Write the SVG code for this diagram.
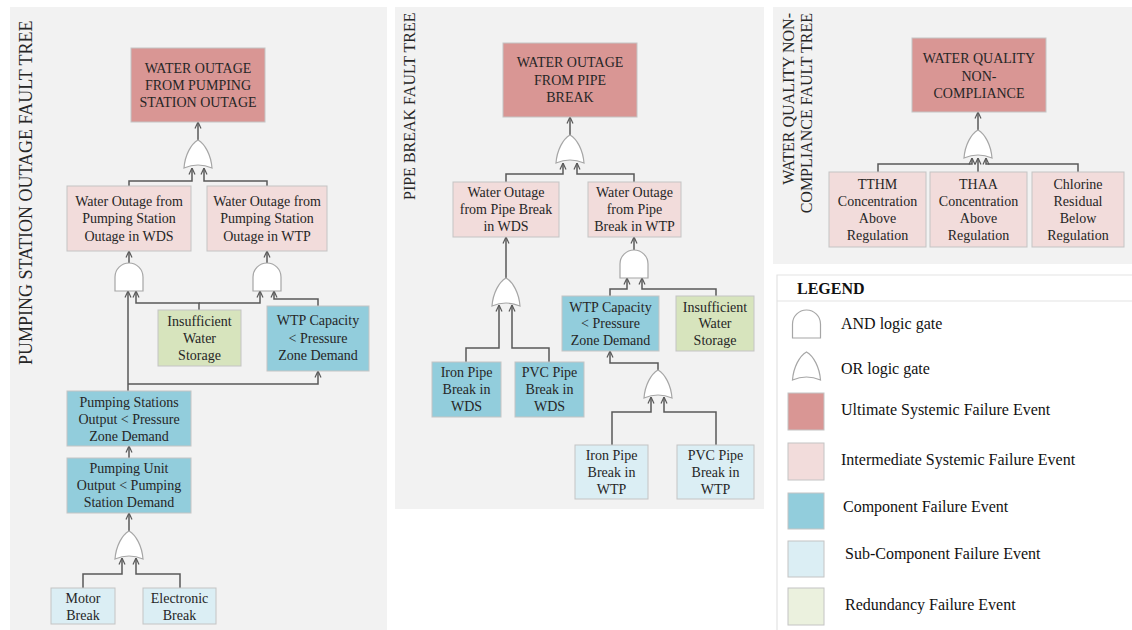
<svg xmlns="http://www.w3.org/2000/svg" width="1132" height="630" viewBox="0 0 1132 630">
<defs>
<style>
.panel{fill:#f2f2f2}
.box{stroke:#c4c4c4;stroke-width:1}
.ult{fill:#d99694}
.int{fill:#f2dcdb}
.comp{fill:#92cddc}
.sub{fill:#dbeef4}
.red{fill:#d7e4bd}
.redl{fill:#ebf1de}
.gate{fill:#ffffff;stroke:#a6a6a6;stroke-width:1.2}
.t{font-family:"Liberation Serif","Times New Roman",serif;font-size:14px;fill:#262626;text-anchor:middle}
.title{font-family:"Liberation Serif","Times New Roman",serif;fill:#262626}
.lg{font-family:"Liberation Serif","Times New Roman",serif;font-size:16px;fill:#111}
.conn{fill:none;stroke:#595959;stroke-width:1.5;marker-end:url(#arr)}
.lgline{stroke:#e3e3e3;stroke-width:1.2;fill:none}
</style>
<marker id="arr" viewBox="0 0 8 8" refX="7.5" refY="4" markerWidth="8" markerHeight="8" markerUnits="userSpaceOnUse" orient="auto">
<path d="M1,1 L7.5,4 L1,7" fill="none" stroke="#595959" stroke-width="1.2"/>
</marker>
<path id="and" class="gate" d="M-14,28 V14 A14,14 0 0 1 14,14 V28 Z"/>
<path id="or" class="gate" d="M-14,28 C-13,15 -7,4 0,0 C7,4 13,15 14,28 Q0,22 -14,28 Z"/>
</defs>

<!-- panels -->
<rect class="panel" x="10" y="7" width="377" height="623"/>
<rect class="panel" x="395" y="7" width="369" height="502"/>
<rect class="panel" x="773" y="7" width="359" height="257"/>

<!-- titles -->
<text class="title" font-size="18" transform="translate(32,365) rotate(-90)">PUMPING STATION OUTAGE FAULT TREE</text>
<text class="title" font-size="16" transform="translate(415,200) rotate(-90)">PIPE BREAK FAULT TREE</text>
<text class="title" font-size="16" text-anchor="end" transform="translate(794,13) rotate(-90)">WATER QUALITY NON-</text>
<text class="title" font-size="16" text-anchor="end" transform="translate(812,13) rotate(-90)">COMPLIANCE FAULT TREE</text>

<!-- connectors -->
<g id="connectors">
<path class="conn" d="M198,140 V122"/>
<path class="conn" d="M129,186 V181 H192 V168"/>
<path class="conn" d="M267,186 V181 H204 V168"/>
<path class="conn" d="M129,263 V251"/>
<path class="conn" d="M267,263 V251"/>
<path class="conn" d="M128,391 V291"/>
<path class="conn" d="M199,310 V303 H136 V291"/>
<path class="conn" d="M199,303 H260 V291"/>
<path class="conn" d="M318,306 V299 H274 V291"/>
<path class="conn" d="M128,384 H318 V371"/>
<path class="conn" d="M129,458 V446"/>
<path class="conn" d="M129,531 V513"/>
<path class="conn" d="M83,588 V574 H122 V558"/>
<path class="conn" d="M180,588 V574 H136 V558"/>

<path class="conn" d="M570,135 V117"/>
<path class="conn" d="M506,182 V174 H563 V163"/>
<path class="conn" d="M634,182 V174 H577 V163"/>
<path class="conn" d="M506,278 V237"/>
<path class="conn" d="M634,250 V237"/>
<path class="conn" d="M466,362 V348 H499 V305"/>
<path class="conn" d="M549,362 V348 H512 V305"/>
<path class="conn" d="M610,296 V289 H627 V278"/>
<path class="conn" d="M716,296 V289 H642 V278"/>
<path class="conn" d="M658,370 V363 H610 V351"/>
<path class="conn" d="M612,445 V412 H651 V397"/>
<path class="conn" d="M716,445 V412 H664 V397"/>

<path class="conn" d="M978,130 V112"/>
<path class="conn" d="M878,172 V164 H972 V158"/>
<path class="conn" d="M978,172 V158"/>
<path class="conn" d="M1078,172 V164 H986 V158"/>
</g>

<!-- gates -->
<g id="gate-ps-top"><use href="#or" x="198" y="140"/></g>
<g id="gate-ps-wds"><use href="#and" x="129" y="263"/></g>
<g id="gate-ps-wtp"><use href="#and" x="267" y="263"/></g>
<g id="gate-ps-unit"><use href="#or" x="129" y="531"/></g>
<g id="gate-pb-top"><use href="#or" x="570" y="135"/></g>
<g id="gate-pb-wds"><use href="#or" x="506" y="278"/></g>
<g id="gate-pb-wtp"><use href="#and" x="634" y="250"/></g>
<g id="gate-pb-cap"><use href="#or" x="658" y="370"/></g>
<g id="gate-wq-top"><use href="#or" x="978" y="130"/></g>

<!-- left panel nodes -->
<g id="ps-top"><rect class="box ult" x="131" y="48" width="134" height="74"/>
<text class="t" x="198" y="73">WATER OUTAGE</text><text class="t" x="198" y="90">FROM PUMPING</text><text class="t" x="198" y="107">STATION OUTAGE</text></g>
<g id="ps-wds"><rect class="box int" x="67" y="186" width="124" height="65"/>
<text class="t" x="129" y="206">Water Outage from</text><text class="t" x="129" y="223">Pumping Station</text><text class="t" x="129" y="241">Outage in WDS</text></g>
<g id="ps-wtp"><rect class="box int" x="207" y="186" width="120" height="65"/>
<text class="t" x="267" y="206">Water Outage from</text><text class="t" x="267" y="223">Pumping Station</text><text class="t" x="267" y="241">Outage in WTP</text></g>
<g id="ps-storage"><rect class="box red" x="158" y="310" width="83" height="56"/>
<text class="t" x="199.5" y="326">Insufficient</text><text class="t" x="199.5" y="343">Water</text><text class="t" x="199.5" y="360">Storage</text></g>
<g id="ps-wtpcap"><rect class="box comp" x="267" y="306" width="102" height="65"/>
<text class="t" x="318" y="325">WTP Capacity</text><text class="t" x="318" y="343">&lt; Pressure</text><text class="t" x="318" y="360">Zone Demand</text></g>
<g id="ps-stations"><rect class="box comp" x="67" y="391" width="124" height="55"/>
<text class="t" x="129" y="407">Pumping Stations</text><text class="t" x="129" y="424">Output &lt; Pressure</text><text class="t" x="129" y="441">Zone Demand</text></g>
<g id="ps-unit"><rect class="box comp" x="67" y="458" width="124" height="55"/>
<text class="t" x="129" y="473">Pumping Unit</text><text class="t" x="129" y="490">Output &lt; Pumping</text><text class="t" x="129" y="507">Station Demand</text></g>
<g id="ps-motor"><rect class="box sub" x="51" y="588" width="64" height="36"/>
<text class="t" x="83" y="603">Motor</text><text class="t" x="83" y="620">Break</text></g>
<g id="ps-elec"><rect class="box sub" x="143" y="588" width="73" height="36"/>
<text class="t" x="179.5" y="603">Electronic</text><text class="t" x="179.5" y="620">Break</text></g>

<!-- middle panel nodes -->
<g id="pb-top"><rect class="box ult" x="503" y="43" width="134" height="74"/>
<text class="t" x="570" y="67">WATER OUTAGE</text><text class="t" x="570" y="85">FROM PIPE</text><text class="t" x="570" y="102">BREAK</text></g>
<g id="pb-wds"><rect class="box int" x="453" y="182" width="106" height="55"/>
<text class="t" x="506" y="197">Water Outage</text><text class="t" x="506" y="214">from Pipe Break</text><text class="t" x="506" y="231">in WDS</text></g>
<g id="pb-wtp"><rect class="box int" x="588" y="182" width="93" height="55"/>
<text class="t" x="634.5" y="197">Water Outage</text><text class="t" x="634.5" y="214">from Pipe</text><text class="t" x="634.5" y="231">Break in WTP</text></g>
<g id="pb-iron-wds"><rect class="box comp" x="432" y="362" width="69" height="55"/>
<text class="t" x="466.5" y="377">Iron Pipe</text><text class="t" x="466.5" y="394">Break in</text><text class="t" x="466.5" y="411">WDS</text></g>
<g id="pb-pvc-wds"><rect class="box comp" x="515" y="362" width="69" height="55"/>
<text class="t" x="549.5" y="377">PVC Pipe</text><text class="t" x="549.5" y="394">Break in</text><text class="t" x="549.5" y="411">WDS</text></g>
<g id="pb-wtpcap"><rect class="box comp" x="562" y="296" width="97" height="55"/>
<text class="t" x="610.5" y="312">WTP Capacity</text><text class="t" x="610.5" y="328">&lt; Pressure</text><text class="t" x="610.5" y="345">Zone Demand</text></g>
<g id="pb-storage"><rect class="box red" x="676" y="296" width="78" height="55"/>
<text class="t" x="715" y="312">Insufficient</text><text class="t" x="715" y="328">Water</text><text class="t" x="715" y="345">Storage</text></g>
<g id="pb-iron-wtp"><rect class="box sub" x="575" y="445" width="73" height="54"/>
<text class="t" x="611.5" y="460">Iron Pipe</text><text class="t" x="611.5" y="477">Break in</text><text class="t" x="611.5" y="494">WTP</text></g>
<g id="pb-pvc-wtp"><rect class="box sub" x="677" y="445" width="77" height="54"/>
<text class="t" x="715.5" y="460">PVC Pipe</text><text class="t" x="715.5" y="477">Break in</text><text class="t" x="715.5" y="494">WTP</text></g>

<!-- right panel nodes -->
<g id="wq-top"><rect class="box ult" x="912" y="38" width="134" height="74"/>
<text class="t" x="979" y="63">WATER QUALITY</text><text class="t" x="979" y="81">NON-</text><text class="t" x="979" y="98">COMPLIANCE</text></g>
<g id="wq-tthm"><rect class="box int" x="829" y="172" width="97" height="75"/>
<text class="t" x="877.5" y="189">TTHM</text><text class="t" x="877.5" y="206">Concentration</text><text class="t" x="877.5" y="223">Above</text><text class="t" x="877.5" y="240">Regulation</text></g>
<g id="wq-thaa"><rect class="box int" x="930" y="172" width="97" height="75"/>
<text class="t" x="978.5" y="189">THAA</text><text class="t" x="978.5" y="206">Concentration</text><text class="t" x="978.5" y="223">Above</text><text class="t" x="978.5" y="240">Regulation</text></g>
<g id="wq-chlorine"><rect class="box int" x="1032" y="172" width="92" height="75"/>
<text class="t" x="1078" y="189">Chlorine</text><text class="t" x="1078" y="206">Residual</text><text class="t" x="1078" y="223">Below</text><text class="t" x="1078" y="240">Regulation</text></g>

<!-- legend -->
<g id="legend">
<path class="lgline" d="M777,630 V275 H1132 M777,301 H1132"/>
<text class="lg" x="797" y="294" font-weight="bold">LEGEND</text>
<use href="#and" x="806.5" y="310"/>
<text class="lg" x="841" y="329">AND logic gate</text>
<use href="#or" x="806.5" y="352"/>
<text class="lg" x="841" y="374">OR logic gate</text>
<rect class="box ult" x="788" y="393" width="36" height="37"/>
<text class="lg" x="841" y="415">Ultimate Systemic Failure Event</text>
<rect class="box int" x="788" y="443" width="36" height="37"/>
<text class="lg" x="841" y="465">Intermediate Systemic Failure Event</text>
<rect class="box comp" x="788" y="493" width="36" height="36"/>
<text class="lg" x="843" y="512">Component Failure Event</text>
<rect class="box sub" x="788" y="541" width="36" height="36"/>
<text class="lg" x="845" y="559">Sub-Component Failure Event</text>
<rect class="box redl" x="788" y="588" width="36" height="37"/>
<text class="lg" x="845" y="610">Redundancy Failure Event</text>
</g>
</svg>
